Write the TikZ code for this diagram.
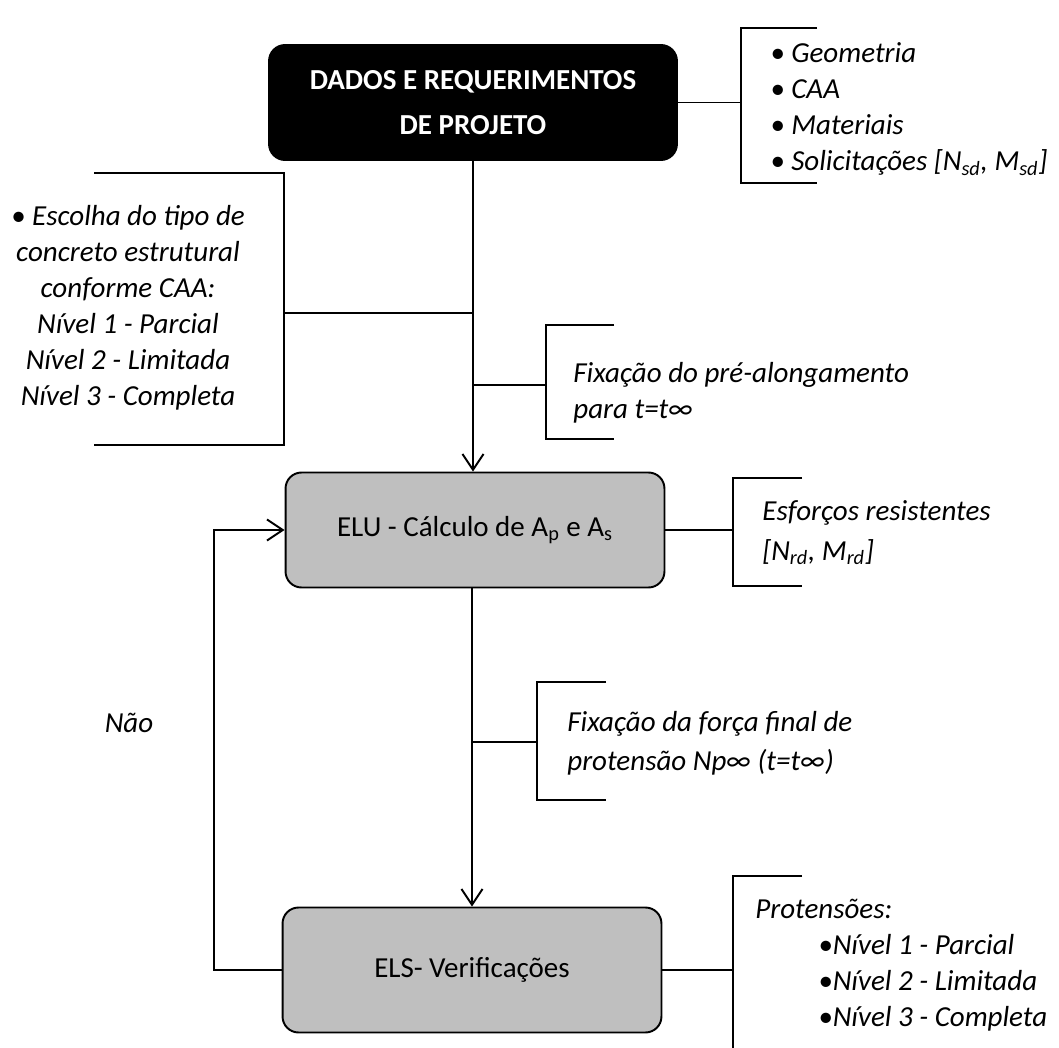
\documentclass[tikz,border=0pt]{standalone}
\usepackage{fontspec}
\setmainfont{Carlito}
\usetikzlibrary{arrows.meta}
\definecolor{cinza}{RGB}{191,191,191}
\tikzset{
  etapa/.style={draw,line width=1.1pt,rounded corners=0.32cm,fill=cinza,minimum width=7.58cm,minimum height=2.3cm,align=center,font=\fontsize{16.5}{20.5}\selectfont},
  nota/.style={inner sep=0pt,font=\fontsize{16.5}{20.5}\selectfont\itshape},
  chave/.style={line width=1.1pt},
  seta/.style={line width=1.1pt,-{Straight Barb[length=9pt,width=12pt]}}
}
\begin{document}
\begin{tikzpicture}[x=0.02cm,y=-0.02cm]
\useasboundingbox (0,0) rectangle (1059,1048);
\node[etapa,fill=black,text=white,minimum width=8.16cm,font=\fontsize{16.5}{25.5}\selectfont\bfseries](dados) at (473,102.5){DADOS E REQUERIMENTOS\\DE PROJETO};
\node[etapa](elu) at (475,530){ELU - Cálculo de A\textsubscript{p} e A\textsubscript{s}};
\node[etapa,minimum height=2.5cm](els) at (472,970){ELS- Verificações};
\draw[seta](dados.south)--(dados.south|-elu.north);
\draw[seta](els.north|-elu.south)--(els.north);
\draw[seta](els.west)--++(-68,0)|-(elu.west);
\node[nota](nao) at (129,723){Não};
\node[nota,anchor=west,align=left](geo) at (770,109){• Geometria\\• CAA\\• Materiais\\• Solicitações [N\textsubscript{sd}, M\textsubscript{sd}]};
\coordinate(bDados) at (741,102.5);
\draw[chave](dados.east)--(bDados);
\draw[chave](817,28)-|(741,183)--(817,183);
\node[nota,align=center](caa) at (128,307.5){• Escolha do tipo de\\concreto estrutural\\conforme CAA:\\Nível 1 - Parcial\\Nível 2 - Limitada\\Nível 3 - Completa};
\coordinate(bCaa) at (284,313);
\draw[chave](bCaa)--(bCaa-|dados.south);
\draw[chave](94,173)-|(284,445)--(94,445);
\node[nota,anchor=west,align=left](pre) at (573,392.5){Fixação do pré-alongamento\\para t=t∞};
\coordinate(bPre) at (546,385);
\draw[chave](bPre-|dados.south)--(bPre);
\draw[chave](614,325)-|(546,439)--(614,439);
\node[nota,anchor=west,align=left,font=\fontsize{16.5}{22.5}\selectfont\itshape](esf) at (762,533){Esforços resistentes\\{}[N\textsubscript{rd}, M\textsubscript{rd}]};
\coordinate(bElu) at (733,530);
\draw[chave](elu.east)--(bElu);
\draw[chave](802,478)-|(733,586)--(802,586);
\node[nota,anchor=west,align=left,font=\fontsize{16.5}{22}\selectfont\itshape](np) at (567,743){Fixação da força final de\\protensão Np∞ (t=t∞)};
\coordinate(bNp) at (537,742);
\draw[chave](bNp-|els.north)--(bNp);
\draw[chave](606,682)-|(537,800)--(606,800);
\node[nota,anchor=west,align=left](prot) at (755,965){Protensões:\\\hspace*{1.26cm}•Nível 1 - Parcial\\\hspace*{1.26cm}•Nível 2 - Limitada\\\hspace*{1.26cm}•Nível 3 - Completa};
\coordinate(bEls) at (733,970);
\draw[chave](els.east)--(bEls);
\draw[chave](802,876)-|(733,1048);
\end{tikzpicture}
\end{document}
